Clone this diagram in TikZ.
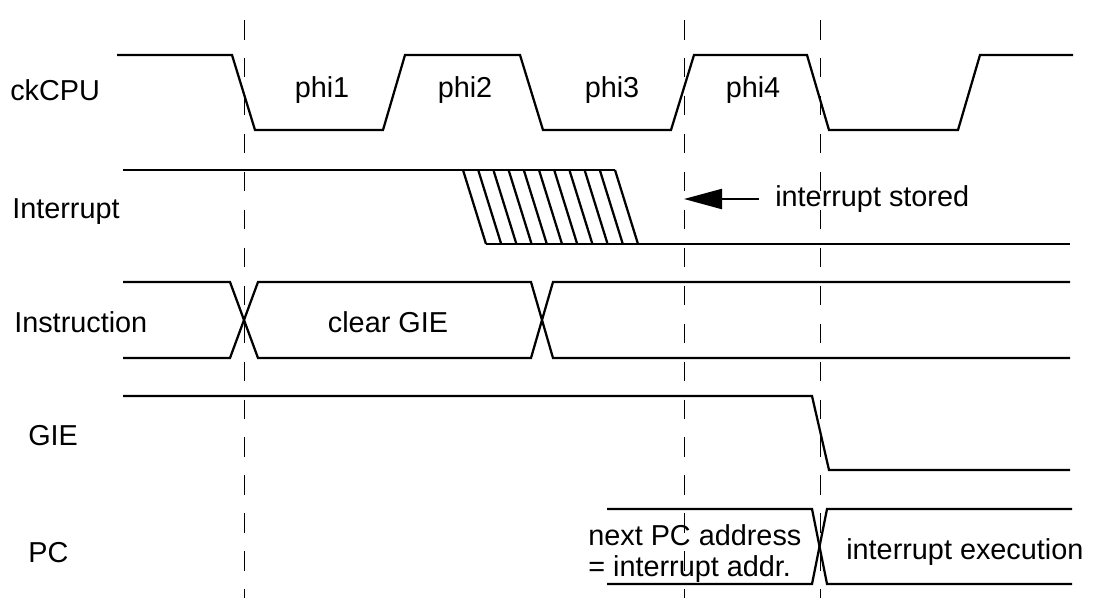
\documentclass[tikz,border=0pt]{standalone}
\usepackage{fontspec}
\setmainfont{Liberation Sans}
\usetikzlibrary{arrows.meta, positioning}
\tikzstyle{sig} = [line width=1.6pt, line join=miter]
\tikzstyle{guide} = [line width=0.7pt, dash pattern=on 14pt off 13pt, dash phase=-7pt]
\tikzstyle{lbl} = [inner sep=0pt, anchor=base west]
\tikzstyle{arrow} = [line width=1.6pt, -{Triangle[length=0.95cm, width=0.5cm]}]

\begin{document}
\begin{tikzpicture}[x=0.025cm, y=-0.025cm, font=\fontsize{20.5}{22.5}\selectfont]
				\useasboundingbox (0,0) rectangle (1101,612);
				% phase boundaries
				\foreach \x in {244, 684, 820}
					\draw [guide] (\x,10) -- (\x,598);
				% signal names
				\node (ckcpu_name) [lbl] at (10,100) {ckCPU};
				\node (interrupt_name) [lbl] at (12,218) {Interrupt};
				\node (instruction_name) [lbl] at (14,332) {Instruction};
				\node (gie_name) [lbl] at (28,445) {GIE};
				\node (pc_name) [lbl] at (28,562) {PC};
				% ckCPU
				\draw [sig] (117,55) -- (232,55) -- (255,130) -- (383,130) -- (405,55) -- (520,55) -- (543,130)
					-- (671,130) -- (694,55) -- (807,55) -- (829,130) -- (958,130) -- (980,55) -- (1073,55);
				\foreach \name/\x in {phi1/322, phi2/465, phi3/612, phi4/753}
					\node (\name) [inner sep=0pt, anchor=base] at (\x,97) {\name};
				% Interrupt
				\draw [sig] (123,170) -- (615,170);
				\foreach \k in {0,...,10}
					\draw [sig] (463+15.2*\k,170) -- (486+15.2*\k,244);
				\draw [sig] (486,244) -- (1070,244);
				\coordinate (stored_tip) at (684,199);
				\node (stored) [inner ysep=0pt, inner xsep=0.4cm, anchor=west] at (759,199) {interrupt stored};
				\draw [arrow] (stored) -- (stored_tip);
				% Instruction
				\draw [sig] (123,282) -- (230,282) -- (258,358) -- (531,358) -- (553,282) -- (1070,282);
				\draw [sig] (123,358) -- (230,358) -- (258,282) -- (531,282) -- (553,358) -- (1070,358);
				\node (clear_gie) [inner sep=0pt, anchor=base] at (388,332) {clear GIE};
				% GIE
				\draw [sig] (123,396) -- (812,396) -- (829,470) -- (1070,470);
				% PC
				\draw [sig] (607,509) -- (812,509) -- (827,584) -- (1072,584);
				\draw [sig] (607,584) -- (812,584) -- (827,509) -- (1072,509);
				\node (next_pc) [inner sep=0pt, anchor=west, align=left] at (588,553.5) {next PC address\\= interrupt addr.};
				\node (int_exec) [lbl] at (846,559) {interrupt execution};
			\end{tikzpicture}
\end{document}
